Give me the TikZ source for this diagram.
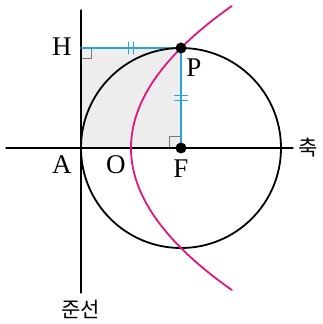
\documentclass[tikz,border=0pt]{standalone}
\usepackage{fontspec}
\setmainfont{Liberation Serif}
\newfontfamily\krfont{Noto Sans CJK KR}
\usetikzlibrary{calc}
\definecolor{FigureBlue}{HTML}{29A3DC}
\definecolor{FigureMagenta}{HTML}{E0157F}
\definecolor{FigureShade}{HTML}{EDEDED}
\definecolor{FigureMark}{HTML}{7A7A7A}
\tikzset{
  ptlabel/.style={font=\fontsize{27}{30}\selectfont},
  krlabel/.style={font=\krfont\fontsize{21}{24}\selectfont},
  eqtick/.style={FigureBlue,line width=0.9pt},
  rightmark/.style={FigureMark,line width=1pt}
}
\begin{document}
\begin{tikzpicture}[x=50pt,y=50pt,line cap=round]
  \useasboundingbox (-2.62,-3.52) rectangle (3.84,2.96);
  \coordinate (O) at (0,0); \coordinate (A) at (-1,0); \coordinate (F) at (1,0);
  \coordinate (P) at (1,2); \coordinate (H) at (-1,2);
  \fill[FigureShade] (A) rectangle (P);
  \draw[rightmark] ($(H)+(0,-.22)$) -| ($(H)+(.22,0)$);
  \draw[rightmark] ($(F)+(-.22,0)$) |- ($(F)+(0,.22)$);
  \draw[line width=1.3pt] (-2.5,0) -- (3.24,0) node[krlabel,right=2pt] (axis) {축};
  \draw[line width=1.3pt] (-1,2.76) -- (-1,-2.9) node[krlabel,below=3pt] (dir) {준선};
  \draw[FigureBlue,line width=1.2pt] (H) -- (P) -- (F);
  \draw[eqtick] (-.05,1.88) -- (-.05,2.12) (.05,1.88) -- (.05,2.12);
  \draw[eqtick] (.87,1.05) -- (1.13,1.05) (.87,.95) -- (1.13,.95);
  \draw[line width=1.8pt] (F) circle[radius=100pt];
  \draw[FigureMagenta,line width=1.8pt] plot[domain=-2.84:2.84,samples=80,smooth] ({\x*\x/4},\x);
  \fill (P) circle (5.5pt); \fill (F) circle (5.5pt);
  \node[ptlabel] at (-1.38,2.02) {H};
  \node[ptlabel] at (1.26,1.6) {P};
  \node[ptlabel] at (-1.38,-.34) {A};
  \node[ptlabel] at (-.3,-.34) {O};
  \node[ptlabel] at (1,-.42) {F};
\end{tikzpicture}
\end{document}
